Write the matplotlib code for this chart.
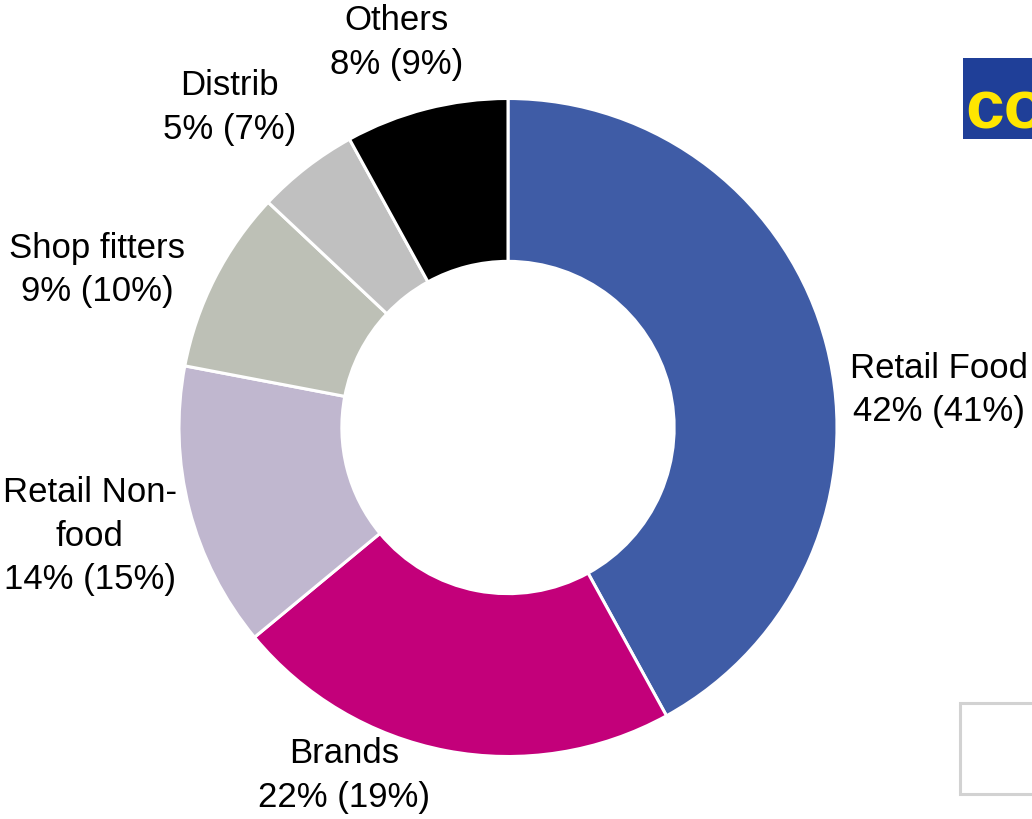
import matplotlib
matplotlib.use("Agg")
import matplotlib.pyplot as plt
from matplotlib.patches import Rectangle

# Segment shares (current year) and prior-year shares in brackets
segments = ["Retail Food", "Brands", "Retail Non-\nfood", "Shop fitters", "Distrib", "Others"]
share_now = [42, 22, 14, 9, 5, 8]
share_prev = [41, 19, 15, 10, 7, 9]

COLORS = ["#3f5ca6", "#c3007a", "#c0b7cf", "#bdc0b6", "#c0c0c0", "#000000"]

# label anchor points, in units of the outer radius from the ring centre
LABEL_POS = [(1.311, 0.114), (-0.497, -1.058), (-1.271, -0.330),
             (-1.249, 0.479), (-0.847, 0.973), (-0.339, 1.170)]

plt.rcParams["font.family"] = ["Liberation Sans", "DejaVu Sans"]

W, H, R = 1032, 819, 329.0
cx, cy = 508, 427.5

fig = plt.figure(figsize=(W / 100, H / 100), dpi=100)
ax = fig.add_axes([0, 0, 1, 1])

ax.pie(share_now, colors=COLORS, startangle=90, counterclock=False,
       radius=1.0,
       wedgeprops=dict(width=0.495, edgecolor="white", linewidth=2.2))

# pie() resets the limits, so set the view afterwards
ax.set_xlim(-cx / R, (W - cx) / R)
ax.set_ylim(-(H - cy) / R, cy / R)
ax.set_aspect("equal")
ax.axis("off")

for name, now, prev, (lx, ly) in zip(segments, share_now, share_prev, LABEL_POS):
    ax.text(lx, ly, f"{name}\n{now}% ({prev}%)", ha="center", va="center",
            fontsize=25, color="#000000", linespacing=1.4)

# corner logo, cut off by the right edge
logo = Rectangle(((963 - cx) / R, (cy - 139) / R), 80 / R, 81 / R,
                 facecolor="#1f3f98", edgecolor="none")
ax.add_patch(logo)
t = ax.text((965 - cx) / R, (cy - 128) / R, "co", fontsize=50, fontweight="bold",
            color="#ffe600", ha="left", va="baseline")
t.set_clip_path(logo)

# empty framed box at bottom right
ax.add_patch(Rectangle(((960 - cx) / R, (cy - 794) / R), 100 / R, 91 / R,
                       facecolor="white", edgecolor="#d2d2d2", linewidth=2.2))

fig.savefig("out.png", dpi=100, facecolor="white")
